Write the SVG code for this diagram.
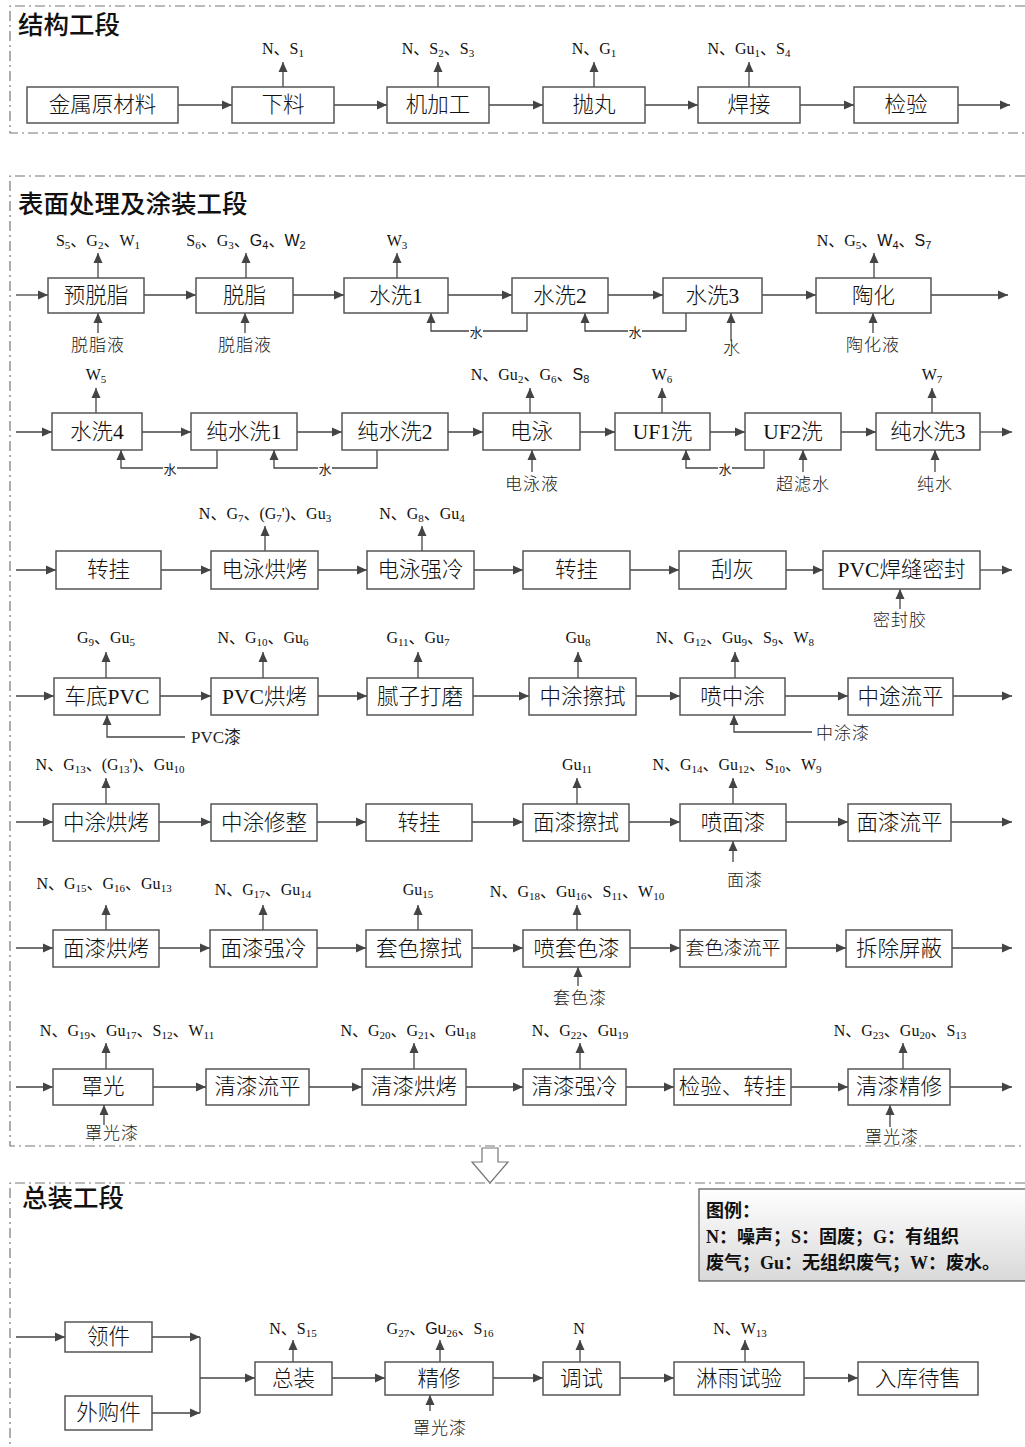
<svg xmlns="http://www.w3.org/2000/svg" width="1025" height="1447" viewBox="0 0 1025 1447">
<defs>
<marker id="ah" viewBox="0 0 10 10" refX="10" refY="5" markerWidth="10" markerHeight="10" markerUnits="userSpaceOnUse" orient="auto"><path d="M0,0.5 L10,5 L0,9.5 z" fill="#444"/></marker>
<linearGradient id="lgg" x1="0" y1="0" x2="0" y2="1"><stop offset="0" stop-color="#ffffff"/><stop offset="1" stop-color="#d9d9d9"/></linearGradient>
<style>
.bx{fill:#fff;stroke:#555;stroke-width:1.5}
.ln{fill:none;stroke:#444;stroke-width:1.3}
.ar{fill:none;stroke:#444;stroke-width:1.3;marker-end:url(#ah)}
.fr{fill:none;stroke:#777;stroke-width:1.2;stroke-dasharray:10 4 2 4}
.t{font-family:"Liberation Serif","Noto Sans CJK SC",serif;font-size:21.5px;font-weight:300;fill:#111;text-anchor:middle;dominant-baseline:central}
.e{font-family:"Liberation Serif","Noto Sans CJK SC",serif;font-size:16px;fill:#111;text-anchor:middle}
.s{font-size:11px}
.sf{font-family:"Liberation Sans","Noto Sans CJK SC",sans-serif}
.i{font-family:"Noto Sans CJK SC",sans-serif;font-size:17px;font-weight:300;letter-spacing:1px;fill:#222;text-anchor:middle}
.il{font-family:"Liberation Serif","Noto Sans CJK SC",serif;font-size:17px;fill:#222}
.w{font-family:"Noto Sans CJK SC",sans-serif;font-size:13px;fill:#222;text-anchor:middle;dominant-baseline:central}
.h{font-family:"Noto Sans CJK SC",sans-serif;font-size:25.5px;font-weight:500;fill:#111}
.lg{font-family:"Liberation Serif","Noto Sans CJK SC",serif;font-size:18px;font-weight:bold;fill:#111}
.wb{fill:#fff}
</style>
</defs>
<rect width="1025" height="1447" fill="#fff"/>

<g id="frames">
<path class="fr" d="M1025,6 H10 V133 H1025"/>
<path class="fr" d="M1025,176 H10 V1146 H1025"/>
<path class="fr" d="M1025,1183 H10 V1447"/>
<text class="h" x="18" y="34">结构工段</text>
<text class="h" x="18" y="213">表面处理及涂装工段</text>
<text class="h" x="22" y="1207">总装工段</text>
<polygon points="482,1148 498,1148 498,1162 508,1162 490,1183 472,1162 482,1162" fill="#fff" stroke="#777" stroke-width="1.2"/>
</g>

<g id="connectors">
<path class="ar" d="M178,105 H232"/><path class="ar" d="M334,105 H387"/><path class="ar" d="M489,105 H543"/><path class="ar" d="M645,105 H698"/><path class="ar" d="M800,105 H854"/><path class="ar" d="M958,105 H1010"/>
<path class="ar" d="M283,87 V62"/><path class="ar" d="M438,87 V62"/><path class="ar" d="M594,87 V62"/><path class="ar" d="M749,87 V62"/>
<path class="ar" d="M16,295 H48"/><path class="ar" d="M144,295 H196"/><path class="ar" d="M293,295 H344"/><path class="ar" d="M448,295 H512"/><path class="ar" d="M608,295 H663"/><path class="ar" d="M762,295 H816"/><path class="ar" d="M931,295 H1008"/>
<path class="ar" d="M98,278 V253"/><path class="ar" d="M246,278 V253"/><path class="ar" d="M397,278 V253"/><path class="ar" d="M874,278 V253"/>
<path class="ar" d="M98,333 V313"/><path class="ar" d="M245,333 V313"/><path class="ar" d="M731,341 V313"/><path class="ar" d="M873,333 V313"/>
<path class="ar" d="M527,313 V331 H431 V313"/><path class="ar" d="M686,313 V331 H585 V313"/>
<path class="ar" d="M16,432 H52"/><path class="ar" d="M142,432 H191"/><path class="ar" d="M297,432 H342"/><path class="ar" d="M448,432 H483"/><path class="ar" d="M580,432 H615"/><path class="ar" d="M710,432 H745"/><path class="ar" d="M841,432 H876"/><path class="ar" d="M980,432 H1012"/>
<path class="ar" d="M96,413 V388"/><path class="ar" d="M530,413 V388"/><path class="ar" d="M662,413 V388"/><path class="ar" d="M932,413 V388"/>
<path class="ar" d="M532,472 V450"/><path class="ar" d="M803,472 V450"/><path class="ar" d="M935,472 V450"/>
<path class="ar" d="M217,450 V468 H121 V450"/><path class="ar" d="M377,450 V468 H274 V450"/><path class="ar" d="M764,450 V468 H686 V450"/>
<path class="ar" d="M16,570 H56"/><path class="ar" d="M161,570 H211"/><path class="ar" d="M318,570 H367"/><path class="ar" d="M474,570 H523"/><path class="ar" d="M630,570 H679"/><path class="ar" d="M786,570 H823"/><path class="ar" d="M980,570 H1012"/>
<path class="ar" d="M265,551 V526"/><path class="ar" d="M422,551 V526"/>
<path class="ar" d="M900,609 V589"/>
<path class="ar" d="M16,696 H54"/><path class="ar" d="M160,696 H211"/><path class="ar" d="M318,696 H367"/><path class="ar" d="M473,696 H529"/><path class="ar" d="M636,696 H680"/><path class="ar" d="M785,696 H848"/><path class="ar" d="M953,696 H1012"/>
<path class="ar" d="M106,678 V652"/><path class="ar" d="M263,678 V652"/><path class="ar" d="M418,678 V652"/><path class="ar" d="M578,678 V652"/><path class="ar" d="M735,678 V652"/>
<path class="ar" d="M185,737 H107 V715"/><path class="ar" d="M812,732 H734 V715"/>
<path class="ar" d="M16,822 H53"/><path class="ar" d="M159,822 H211"/><path class="ar" d="M317,822 H366"/><path class="ar" d="M472,822 H523"/><path class="ar" d="M629,822 H680"/><path class="ar" d="M786,822 H848"/><path class="ar" d="M951,822 H1012"/>
<path class="ar" d="M106,804 V778"/><path class="ar" d="M577,804 V778"/><path class="ar" d="M733,804 V778"/>
<path class="ar" d="M733,862 V841"/>
<path class="ar" d="M16,948 H53"/><path class="ar" d="M159,948 H210"/><path class="ar" d="M317,948 H366"/><path class="ar" d="M472,948 H523"/><path class="ar" d="M630,948 H680"/><path class="ar" d="M786,948 H846"/><path class="ar" d="M952,948 H1012"/>
<path class="ar" d="M106,930 V905"/><path class="ar" d="M263,930 V905"/><path class="ar" d="M418,930 V905"/><path class="ar" d="M577,930 V905"/>
<path class="ar" d="M578,986 V967"/>
<path class="ar" d="M16,1087 H53"/><path class="ar" d="M153,1087 H206"/><path class="ar" d="M309,1087 H362"/><path class="ar" d="M466,1087 H523"/><path class="ar" d="M626,1087 H674"/><path class="ar" d="M791,1087 H848"/><path class="ar" d="M950,1087 H1012"/>
<path class="ar" d="M106,1069 V1043"/><path class="ar" d="M414,1069 V1043"/><path class="ar" d="M580,1069 V1043"/><path class="ar" d="M903,1069 V1043"/>
<path class="ar" d="M104,1125 V1105"/><path class="ar" d="M890,1127 V1105"/>
<path class="ar" d="M16,1337 H65"/><path class="ar" d="M152,1337 H200"/><path class="ar" d="M152,1413 H200"/><path class="ln" d="M200,1337 V1413"/>
<path class="ar" d="M200,1378 H255"/><path class="ar" d="M332,1378 H385"/><path class="ar" d="M493,1378 H543"/><path class="ar" d="M620,1378 H674"/><path class="ar" d="M804,1378 H858"/>
<path class="ar" d="M293,1362 V1340"/><path class="ar" d="M440,1362 V1340"/><path class="ar" d="M580,1362 V1340"/><path class="ar" d="M745,1362 V1340"/>
<path class="ar" d="M430,1411 V1395"/>
<rect class="wb" x="469" y="324" width="14" height="14"/><text class="w" x="476" y="331">水</text>
<rect class="wb" x="628" y="324" width="14" height="14"/><text class="w" x="635" y="331">水</text>
<rect class="wb" x="163" y="461" width="14" height="14"/><text class="w" x="170" y="468">水</text>
<rect class="wb" x="318" y="461" width="14" height="14"/><text class="w" x="325" y="468">水</text>
<rect class="wb" x="718" y="461" width="14" height="14"/><text class="w" x="725" y="468">水</text>
</g>

<g id="n-jinshu"><rect class="bx" x="27" y="87" width="151" height="36"/><text class="t" x="102.5" y="105">金属原材料</text></g>
<g id="n-xialiao"><rect class="bx" x="232" y="87" width="102" height="36"/><text class="t" x="283" y="105">下料</text><text class="e" x="283" y="54">N、S<tspan class="s" dy="3">1</tspan></text></g>
<g id="n-jijiagong"><rect class="bx" x="387" y="87" width="102" height="36"/><text class="t" x="438" y="105">机加工</text><text class="e" x="438" y="54">N、S<tspan class="s" dy="3">2</tspan><tspan dy="-3">、S</tspan><tspan class="s" dy="3">3</tspan></text></g>
<g id="n-paowan"><rect class="bx" x="543" y="87" width="102" height="36"/><text class="t" x="594" y="105">抛丸</text><text class="e" x="594" y="54">N、G<tspan class="s" dy="3">1</tspan></text></g>
<g id="n-hanjie"><rect class="bx" x="698" y="87" width="102" height="36"/><text class="t" x="749" y="105">焊接</text><text class="e" x="749" y="54">N、Gu<tspan class="s" dy="3">1</tspan><tspan dy="-3">、S</tspan><tspan class="s" dy="3">4</tspan></text></g>
<g id="n-jianyan"><rect class="bx" x="854" y="87" width="104" height="36"/><text class="t" x="906" y="105">检验</text></g>

<g id="n-yutuozhi"><rect class="bx" x="48" y="278" width="96" height="35"/><text class="t" x="96" y="295.5">预脱脂</text><text class="e" x="98" y="246">S<tspan class="s" dy="3">5</tspan><tspan dy="-3">、G</tspan><tspan class="s" dy="3">2</tspan><tspan dy="-3">、W</tspan><tspan class="s" dy="3">1</tspan></text><text class="i" x="98" y="351">脱脂液</text></g>
<g id="n-tuozhi"><rect class="bx" x="196" y="278" width="97" height="35"/><text class="t" x="244.5" y="295.5">脱脂</text><text class="e" x="246" y="246">S<tspan class="s" dy="3">6</tspan><tspan dy="-3">、G</tspan><tspan class="s" dy="3">3</tspan><tspan dy="-3">、</tspan><tspan class="sf">G</tspan><tspan class="s sf" dy="3">4</tspan><tspan dy="-3">、</tspan><tspan class="sf">W</tspan><tspan class="s sf" dy="3">2</tspan></text><text class="i" x="245" y="351">脱脂液</text></g>
<g id="n-shuixi1"><rect class="bx" x="344" y="278" width="104" height="35"/><text class="t" x="396" y="295.5">水洗1</text><text class="e" x="397" y="246">W<tspan class="s" dy="3">3</tspan></text></g>
<g id="n-shuixi2"><rect class="bx" x="512" y="278" width="96" height="35"/><text class="t" x="560" y="295.5">水洗2</text></g>
<g id="n-shuixi3"><rect class="bx" x="663" y="278" width="99" height="35"/><text class="t" x="712.5" y="295.5">水洗3</text><text class="i" x="732" y="354">水</text></g>
<g id="n-taohua"><rect class="bx" x="816" y="278" width="115" height="35"/><text class="t" x="873.5" y="295.5">陶化</text><text class="e" x="874" y="246">N、G<tspan class="s" dy="3">5</tspan><tspan dy="-3">、</tspan><tspan class="sf">W</tspan><tspan class="s sf" dy="3">4</tspan><tspan dy="-3">、</tspan><tspan class="sf">S</tspan><tspan class="s sf" dy="3">7</tspan></text><text class="i" x="873" y="351">陶化液</text></g>

<g id="n-shuixi4"><rect class="bx" x="52" y="413" width="90" height="37"/><text class="t" x="97" y="431.5">水洗4</text><text class="e" x="96" y="380">W<tspan class="s" dy="3">5</tspan></text></g>
<g id="n-chunshui1"><rect class="bx" x="191" y="413" width="106" height="37"/><text class="t" x="244" y="431.5">纯水洗1</text></g>
<g id="n-chunshui2"><rect class="bx" x="342" y="413" width="106" height="37"/><text class="t" x="395" y="431.5">纯水洗2</text></g>
<g id="n-dianyong"><rect class="bx" x="483" y="413" width="97" height="37"/><text class="t" x="531.5" y="431.5">电泳</text><text class="e" x="530" y="380">N、Gu<tspan class="s" dy="3">2</tspan><tspan dy="-3">、G</tspan><tspan class="s" dy="3">6</tspan><tspan dy="-3">、</tspan><tspan class="sf">S</tspan><tspan class="s sf" dy="3">8</tspan></text><text class="i" x="532" y="490">电泳液</text></g>
<g id="n-uf1"><rect class="bx" x="615" y="413" width="95" height="37"/><text class="t" x="662.5" y="431.5">UF1洗</text><text class="e" x="662" y="380">W<tspan class="s" dy="3">6</tspan></text></g>
<g id="n-uf2"><rect class="bx" x="745" y="413" width="96" height="37"/><text class="t" x="793" y="431.5">UF2洗</text><text class="i" x="803" y="490">超滤水</text></g>
<g id="n-chunshui3"><rect class="bx" x="876" y="413" width="104" height="37"/><text class="t" x="928" y="431.5">纯水洗3</text><text class="e" x="932" y="380">W<tspan class="s" dy="3">7</tspan></text><text class="i" x="935" y="490">纯水</text></g>

<g id="n-zhuangua1"><rect class="bx" x="56" y="551" width="105" height="38"/><text class="t" x="108.5" y="570">转挂</text></g>
<g id="n-dyhongkao"><rect class="bx" x="211" y="551" width="107" height="38"/><text class="t" x="264.5" y="570">电泳烘烤</text><text class="e" x="265" y="519">N、G<tspan class="s" dy="3">7</tspan><tspan dy="-3">、(G</tspan><tspan class="s" dy="3">7</tspan><tspan dy="-3">')、Gu</tspan><tspan class="s" dy="3">3</tspan></text></g>
<g id="n-dyqiangleng"><rect class="bx" x="367" y="551" width="107" height="38"/><text class="t" x="420.5" y="570">电泳强冷</text><text class="e" x="422" y="519">N、G<tspan class="s" dy="3">8</tspan><tspan dy="-3">、Gu</tspan><tspan class="s" dy="3">4</tspan></text></g>
<g id="n-zhuangua2"><rect class="bx" x="523" y="551" width="107" height="38"/><text class="t" x="576.5" y="570">转挂</text></g>
<g id="n-guahui"><rect class="bx" x="679" y="551" width="107" height="38"/><text class="t" x="732.5" y="570">刮灰</text></g>
<g id="n-pvcmifeng"><rect class="bx" x="823" y="551" width="157" height="38"/><text class="t" x="901.5" y="570">PVC焊缝密封</text><text class="i" x="900" y="626">密封胶</text></g>

<g id="n-chedipvc"><rect class="bx" x="54" y="678" width="106" height="37"/><text class="t" x="107" y="696.5">车底PVC</text><text class="e" x="106" y="643">G<tspan class="s" dy="3">9</tspan><tspan dy="-3">、Gu</tspan><tspan class="s" dy="3">5</tspan></text><text class="il" x="191" y="743">PVC漆</text></g>
<g id="n-pvchongkao"><rect class="bx" x="211" y="678" width="107" height="37"/><text class="t" x="264.5" y="696.5">PVC烘烤</text><text class="e" x="263" y="643">N、G<tspan class="s" dy="3">10</tspan><tspan dy="-3">、Gu</tspan><tspan class="s" dy="3">6</tspan></text></g>
<g id="n-nizi"><rect class="bx" x="367" y="678" width="106" height="37"/><text class="t" x="420" y="696.5">腻子打磨</text><text class="e" x="418" y="643">G<tspan class="s" dy="3">11</tspan><tspan dy="-3">、Gu</tspan><tspan class="s" dy="3">7</tspan></text></g>
<g id="n-zhongtucashi"><rect class="bx" x="529" y="678" width="107" height="37"/><text class="t" x="582.5" y="696.5">中涂擦拭</text><text class="e" x="578" y="643">Gu<tspan class="s" dy="3">8</tspan></text></g>
<g id="n-penzhongtu"><rect class="bx" x="680" y="678" width="105" height="37"/><text class="t" x="732.5" y="696.5">喷中涂</text><text class="e" x="735" y="643">N、G<tspan class="s" dy="3">12</tspan><tspan dy="-3">、Gu</tspan><tspan class="s" dy="3">9</tspan><tspan dy="-3">、S</tspan><tspan class="s" dy="3">9</tspan><tspan dy="-3">、W</tspan><tspan class="s" dy="3">8</tspan></text><text class="i" x="843" y="739">中涂漆</text></g>
<g id="n-zhongtuliuping"><rect class="bx" x="848" y="678" width="105" height="37"/><text class="t" x="900.5" y="696.5">中途流平</text></g>

<g id="n-zthongkao"><rect class="bx" x="53" y="804" width="106" height="37"/><text class="t" x="106" y="822.5">中涂烘烤</text><text class="e" x="110" y="770">N、G<tspan class="s" dy="3">13</tspan><tspan dy="-3">、(G</tspan><tspan class="s" dy="3">13</tspan><tspan dy="-3">')、Gu</tspan><tspan class="s" dy="3">10</tspan></text></g>
<g id="n-ztxiuzheng"><rect class="bx" x="211" y="804" width="106" height="37"/><text class="t" x="264" y="822.5">中涂修整</text></g>
<g id="n-zhuangua3"><rect class="bx" x="366" y="804" width="106" height="37"/><text class="t" x="419" y="822.5">转挂</text></g>
<g id="n-mqcashi"><rect class="bx" x="523" y="804" width="106" height="37"/><text class="t" x="576" y="822.5">面漆擦拭</text><text class="e" x="577" y="770">Gu<tspan class="s" dy="3">11</tspan></text></g>
<g id="n-penmianqi"><rect class="bx" x="680" y="804" width="106" height="37"/><text class="t" x="733" y="822.5">喷面漆</text><text class="e" x="737" y="770">N、G<tspan class="s" dy="3">14</tspan><tspan dy="-3">、Gu</tspan><tspan class="s" dy="3">12</tspan><tspan dy="-3">、S</tspan><tspan class="s" dy="3">10</tspan><tspan dy="-3">、W</tspan><tspan class="s" dy="3">9</tspan></text><text class="i" x="745" y="886">面漆</text></g>
<g id="n-mqliuping"><rect class="bx" x="848" y="804" width="103" height="37"/><text class="t" x="899.5" y="822.5">面漆流平</text></g>

<g id="n-mqhongkao"><rect class="bx" x="53" y="930" width="106" height="37"/><text class="t" x="106" y="948.5">面漆烘烤</text><text class="e" x="104" y="889">N、G<tspan class="s" dy="3">15</tspan><tspan dy="-3">、G</tspan><tspan class="s" dy="3">16</tspan><tspan dy="-3">、Gu</tspan><tspan class="s" dy="3">13</tspan></text></g>
<g id="n-mqqiangleng"><rect class="bx" x="210" y="930" width="107" height="37"/><text class="t" x="263.5" y="948.5">面漆强冷</text><text class="e" x="263" y="895">N、G<tspan class="s" dy="3">17</tspan><tspan dy="-3">、Gu</tspan><tspan class="s" dy="3">14</tspan></text></g>
<g id="n-tscashi"><rect class="bx" x="366" y="930" width="106" height="37"/><text class="t" x="419" y="948.5">套色擦拭</text><text class="e" x="418" y="895">Gu<tspan class="s" dy="3">15</tspan></text></g>
<g id="n-pentaose"><rect class="bx" x="523" y="930" width="107" height="37"/><text class="t" x="576.5" y="948.5">喷套色漆</text><text class="e" x="577" y="897">N、G<tspan class="s" dy="3">18</tspan><tspan dy="-3">、Gu</tspan><tspan class="s" dy="3">16</tspan><tspan dy="-3">、S</tspan><tspan class="s" dy="3">11</tspan><tspan dy="-3">、W</tspan><tspan class="s" dy="3">10</tspan></text><text class="i" x="580" y="1004">套色漆</text></g>
<g id="n-tsliuping"><rect class="bx" x="680" y="930" width="106" height="37"/><text class="t" x="733" y="948.5" style="font-size:19px">套色漆流平</text></g>
<g id="n-chaichu"><rect class="bx" x="846" y="930" width="106" height="37"/><text class="t" x="899" y="948.5">拆除屏蔽</text></g>

<g id="n-zhaoguang"><rect class="bx" x="53" y="1069" width="100" height="36"/><text class="t" x="103" y="1087">罩光</text><text class="e" x="127" y="1036">N、G<tspan class="s" dy="3">19</tspan><tspan dy="-3">、Gu</tspan><tspan class="s" dy="3">17</tspan><tspan dy="-3">、S</tspan><tspan class="s" dy="3">12</tspan><tspan dy="-3">、W</tspan><tspan class="s" dy="3">11</tspan></text><text class="i" x="112" y="1139">罩光漆</text></g>
<g id="n-qqliuping"><rect class="bx" x="206" y="1069" width="103" height="36"/><text class="t" x="257.5" y="1087">清漆流平</text></g>
<g id="n-qqhongkao"><rect class="bx" x="362" y="1069" width="104" height="36"/><text class="t" x="414" y="1087">清漆烘烤</text><text class="e" x="408" y="1036">N、G<tspan class="s" dy="3">20</tspan><tspan dy="-3">、G</tspan><tspan class="s" dy="3">21</tspan><tspan dy="-3">、Gu</tspan><tspan class="s" dy="3">18</tspan></text></g>
<g id="n-qqqiangleng"><rect class="bx" x="523" y="1069" width="103" height="36"/><text class="t" x="574.5" y="1087">清漆强冷</text><text class="e" x="580" y="1036">N、G<tspan class="s" dy="3">22</tspan><tspan dy="-3">、Gu</tspan><tspan class="s" dy="3">19</tspan></text></g>
<g id="n-jianyanzg"><rect class="bx" x="674" y="1069" width="117" height="36"/><text class="t" x="732.5" y="1087">检验、转挂</text></g>
<g id="n-qqjingxiu"><rect class="bx" x="848" y="1069" width="102" height="36"/><text class="t" x="899" y="1087">清漆精修</text><text class="e" x="900" y="1036">N、G<tspan class="s" dy="3">23</tspan><tspan dy="-3">、Gu</tspan><tspan class="s" dy="3">20</tspan><tspan dy="-3">、S</tspan><tspan class="s" dy="3">13</tspan></text><text class="i" x="892" y="1143">罩光漆</text></g>

<g id="legend">
<rect x="699" y="1189" width="340" height="92" fill="url(#lgg)" stroke="#555" stroke-width="1.2"/>
<text class="lg" x="706" y="1217">图例：</text>
<text class="lg" x="706" y="1243">N：噪声；S：固废；G：有组织</text>
<text class="lg" x="706" y="1269">废气；Gu：无组织废气；W：废水。</text>
</g>

<g id="n-lingjian"><rect class="bx" x="65" y="1322" width="87" height="30"/><text class="t" x="108.5" y="1337">领件</text></g>
<g id="n-waigou"><rect class="bx" x="65" y="1396" width="87" height="34"/><text class="t" x="108.5" y="1413">外购件</text></g>
<g id="n-zongzhuang"><rect class="bx" x="255" y="1362" width="77" height="33"/><text class="t" x="293.5" y="1378.5">总装</text><text class="e" x="293" y="1334">N、S<tspan class="s" dy="3">15</tspan></text></g>
<g id="n-jingxiu"><rect class="bx" x="385" y="1362" width="108" height="33"/><text class="t" x="439" y="1378.5">精修</text><text class="e" x="440" y="1334">G<tspan class="s" dy="3">27</tspan><tspan dy="-3">、</tspan><tspan class="sf">Gu</tspan><tspan class="s" dy="3">26</tspan><tspan dy="-3">、S</tspan><tspan class="s" dy="3">16</tspan></text><text class="i" x="440" y="1434">罩光漆</text></g>
<g id="n-tiaoshi"><rect class="bx" x="543" y="1362" width="77" height="33"/><text class="t" x="581.5" y="1378.5">调试</text><text class="e" x="579" y="1334">N</text></g>
<g id="n-linyu"><rect class="bx" x="674" y="1362" width="130" height="33"/><text class="t" x="739" y="1378.5">淋雨试验</text><text class="e" x="740" y="1334">N、W<tspan class="s" dy="3">13</tspan></text></g>
<g id="n-ruku"><rect class="bx" x="858" y="1362" width="120" height="33"/><text class="t" x="918" y="1378.5">入库待售</text></g>
</svg>
